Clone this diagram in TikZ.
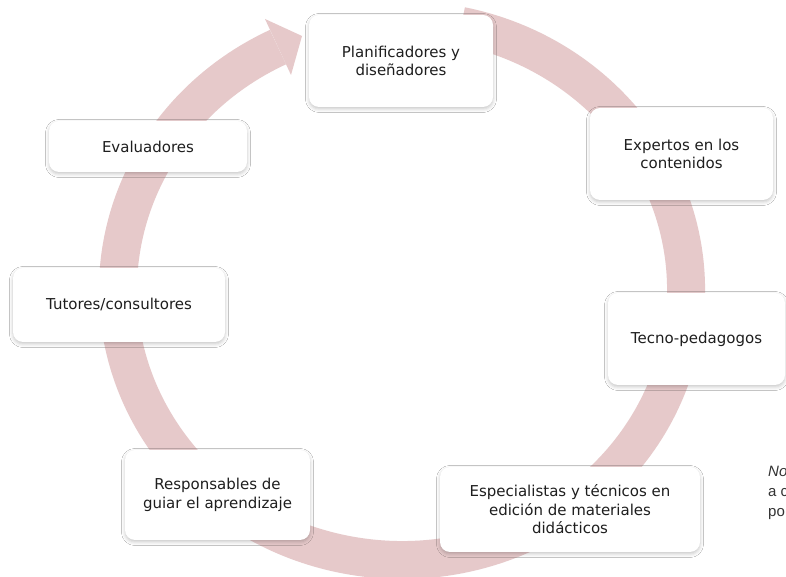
\documentclass[tikz,border=0pt]{standalone}
\usepackage{fontspec}
\setmainfont{DejaVu Sans}
\newfontfamily\notefont{Liberation Sans}
\usetikzlibrary{shadows.blur}

\definecolor{ringpink}{HTML}{E6C9CA}
\definecolor{textdark}{HTML}{1E1E1E}
\definecolor{notegray}{HTML}{333333}

\tikzset{
  card/.style={rectangle, rounded corners=10pt, fill=white,
    align=center, text=textdark, inner sep=0pt,
    font=\fontsize{15}{18.5}\selectfont,
    blur shadow={shadow xshift=0pt, shadow yshift=-2pt,
      shadow blur radius=3.5pt, shadow opacity=22}},
  ring/.style={draw=ringpink, line width=38pt, line cap=butt},
  notetext/.style={anchor=base west, inner sep=0pt, text=notegray,
    font=\notefont\fontsize{15}{20}\selectfont},
}

\begin{document}
\begin{tikzpicture}[x=1pt,y=1pt]
  % page frame
  \clip (0,0) rectangle (786,577);
  \fill[white] (0,0) rectangle (786,577);

  % circular band running clockwise from the top, ending in an arrowhead
  \coordinate (ringc) at (402,287);
  \draw[ring] (ringc) ++(78:284 and 270)
    arc[start angle=78, end angle=-244.1, x radius=284, y radius=270]
    coordinate (headbase);
  \fill[ringpink] (265,558) -- (302,541) -- (291,502) -- cycle;

  % role cards
  \node[card, minimum width=184pt, minimum height=92pt] (plan) at (401,516)
    {Planificadores y\\diseñadores};
  \node[card, minimum width=183pt, minimum height=92pt] (expert) at (681.5,423)
    {Expertos en los\\contenidos};
  \node[card, minimum width=177pt, minimum height=92pt] (tecno) at (696.5,238)
    {Tecno-pedagogos};
  \node[card, minimum width=260pt, minimum height=85pt] (espec) at (570,67.5)
    {Especialistas y técnicos en\\edición de materiales\\didácticos};
  \node[card, minimum width=185pt, minimum height=90pt] (resp) at (217.5,82)
    {Responsables de\\guiar el aprendizaje};
  \node[card, minimum width=212pt, minimum height=74pt] (tutor) at (119,272)
    {Tutores/consultores};
  \node[card, minimum width=198pt, minimum height=51pt] (eval) at (148,430.5)
    {Evaluadores};

  % note at the lower right edge
  \node[notetext] (note1) at (768,100) {\itshape No};
  \node[notetext] (note2) at (768,80) {a c};
  \node[notetext] (note3) at (768,60) {po};
\end{tikzpicture}
\end{document}
